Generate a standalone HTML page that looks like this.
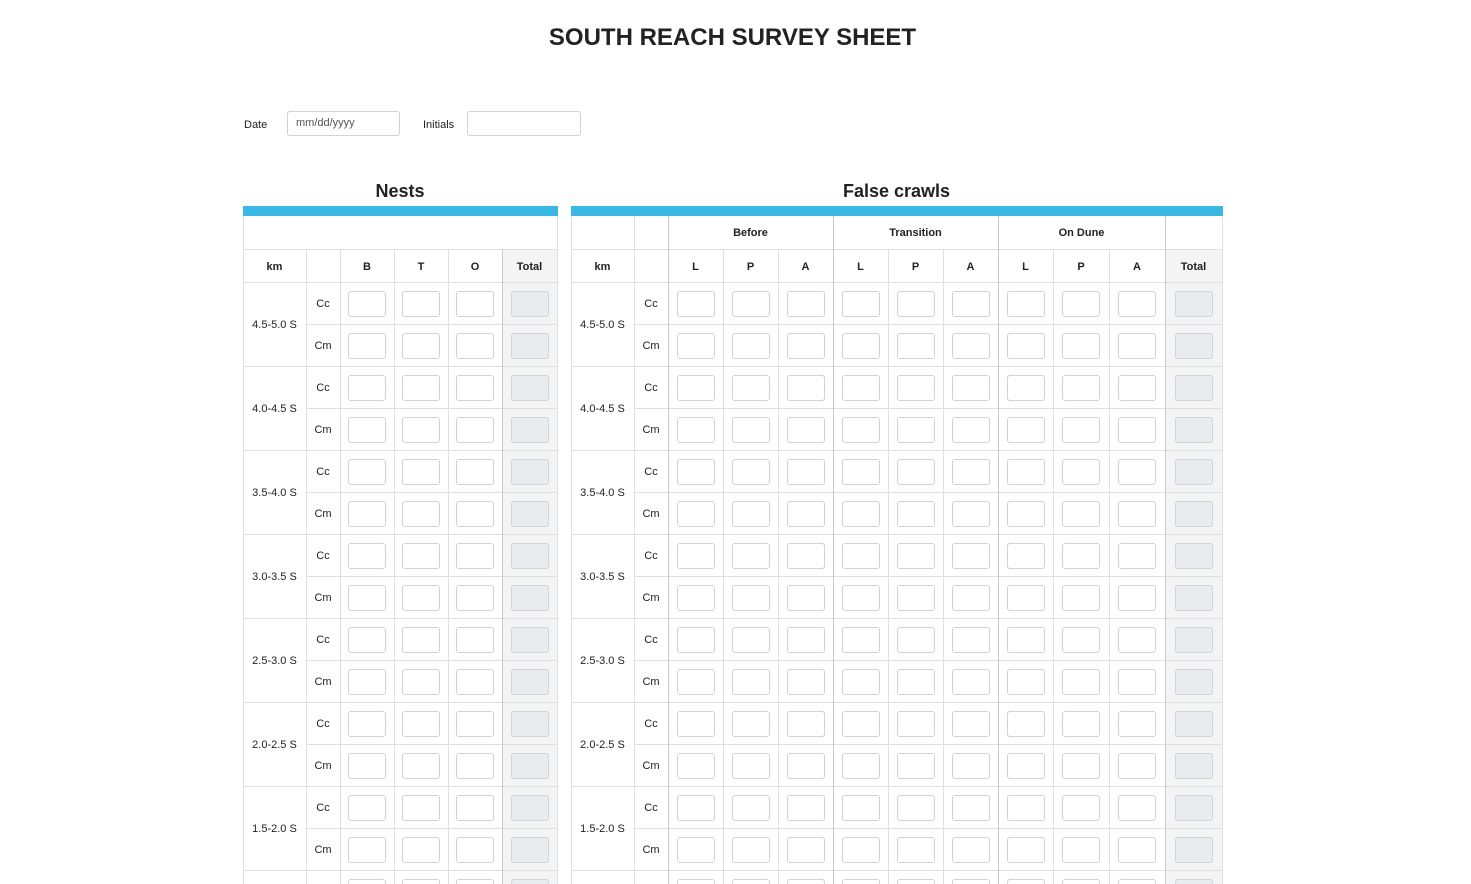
<!DOCTYPE html>
<html><head><meta charset="utf-8">
<style>
html,body{margin:0;width:1471px;height:884px;overflow:hidden}
body{background:#fff;font-family:"Liberation Sans",Arial,sans-serif;color:#222;position:relative}
#wrap{position:absolute;left:0;top:0;width:1471px;height:884px;overflow:hidden}
.a{position:absolute;box-sizing:border-box}
.t{display:flex;align-items:center;justify-content:center;font-size:11px;color:#222}
.b{font-weight:bold}
.inp{position:absolute;box-sizing:border-box;border:1px solid #cfd3d8;border-radius:3px;background:#fff}
.tot{background:#e9ebee}
.bar{background:#38b8e2}
</style></head><body>
<div id="wrap">
<div class="a t b" style="left:0;top:19px;width:1465px;height:38px;font-size:24px;color:#222">SOUTH REACH SURVEY SHEET</div>
<div class="a t" style="left:244px;top:117px;height:16px;font-size:11px">Date</div>
<div class="inp" style="left:287px;top:111px;width:113px;height:25px;font-size:11px;color:#555;padding:5px 8px">mm/dd/yyyy</div>
<div class="a t" style="left:423px;top:117px;height:16px;font-size:11px">Initials</div>
<div class="inp" style="left:467px;top:111px;width:114px;height:25px"></div>
<div id="root"></div>
</div>
<script>
const ranges=["4.5-5.0 S","4.0-4.5 S","3.5-4.0 S","3.0-3.5 S","2.5-3.0 S","2.0-2.5 S","1.5-2.0 S","1.0-1.5 S"];
const species=["Cc","Cm"];
const root=document.getElementById('root');
function div(cls,st,txt){const d=document.createElement('div');d.className=cls;d.style.cssText=st;if(txt!==undefined)d.textContent=txt;root.appendChild(d);return d;}
function line(x,y,w,h,c){const d=div('a','left:'+x+'px;top:'+y+'px;width:'+w+'px;height:'+h+'px;background:'+c);

}
function build(name,title,cols,heads,groups,darkCols,row1Lines){
const x0=cols[0],x1=cols[cols.length-1];
const tt=div('a t b','left:'+x0+'px;top:178px;width:'+(x1-x0)+'px;height:26px;font-size:18px',title);


const bar=div('a bar','left:'+x0+'px;top:206px;width:'+(x1-x0+1)+'px;height:10px');


const totx=cols[cols.length-2];
const bottom=900;
const tb=div('a','left:'+totx+'px;top:249px;width:'+(x1-totx)+'px;height:'+(bottom-249)+'px;background:#f4f4f4');


groups.forEach(g=>{const d=div('a t b','left:'+cols[g[0]]+'px;top:216px;width:'+(cols[g[1]]-cols[g[0]])+'px;height:33px',g[2]);

});
heads.forEach((h,i)=>{const d=div('a t b','left:'+cols[i]+'px;top:250px;width:'+(cols[i+1]-cols[i])+'px;height:33px',h);

});
line(x0,249,x1-x0,1,'#dde0e4');line(x0,282,x1-x0,1,'#dde0e4');
ranges.forEach((r,ri)=>{const y=282+ri*84;
const k=div('a t','left:'+x0+'px;top:'+(y+1)+'px;width:'+(cols[1]-x0)+'px;height:84px',r);


species.forEach((s,si)=>{const yy=y+si*42;
const sp=div('a t','left:'+cols[1]+'px;top:'+(yy+1)+'px;width:'+(cols[2]-cols[1])+'px;height:42px',s);


const lx=si===0?cols[1]:x0;
line(lx,yy+42,x1-lx,1,'#dde0e4');
for(let c=2;c<cols.length-1;c++){const w=cols[c+1]-cols[c];const last=c===cols.length-2;
const inp=div('inp'+(last?' tot':''),'left:'+(cols[c]+Math.round((w-38)/2))+'px;top:'+(yy+9)+'px;width:38px;height:26px');

}
});});
cols.forEach((c,i)=>{let top=row1Lines.includes(i)?216:249;
line(c,top,1,bottom-top,darkCols.includes(i)?'#c9c9c9':'#dde0e4');});
}
build('nests','Nests',[243,306,340,394,448,502,557],['km','','B','T','O','Total'],[],[5],[0,6]);
build('false-crawls','False crawls',[571,634,668,723,778,833,888,943,998,1053,1109,1165,1222],['km','','L','P','A','L','P','A','L','P','A','Total'],[[2,5,'Before'],[5,8,'Transition'],[8,11,'On Dune']],[2,5,8,11],[0,1,2,5,8,11,12]);
</script>
</body></html>
